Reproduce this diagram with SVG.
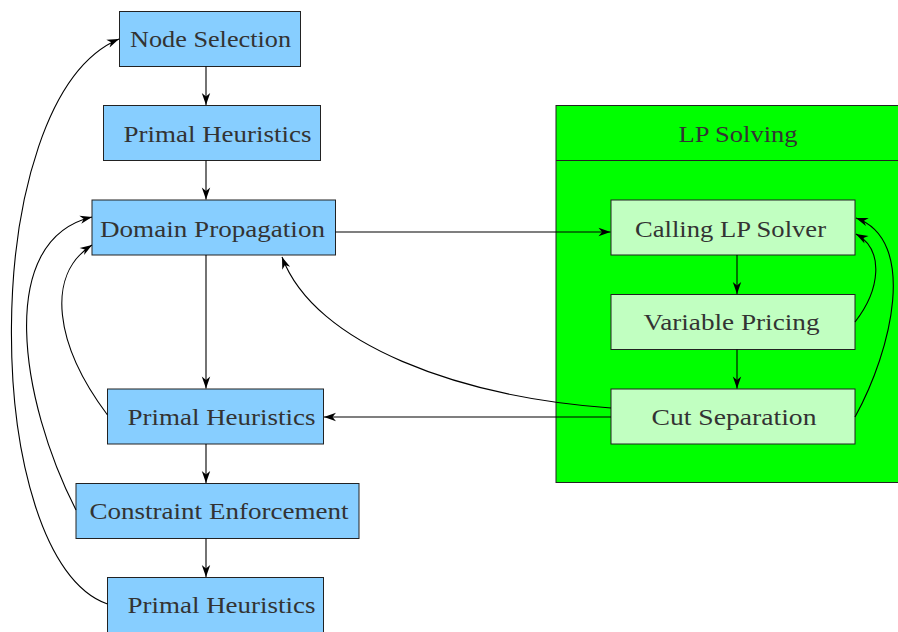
<svg xmlns="http://www.w3.org/2000/svg" width="898" height="632" viewBox="0 0 898 632">
  <style>
    .node rect { fill: #87ceff; stroke: #222; stroke-width: 1; }
    .lp rect { fill: #c1ffc1; stroke: #222; stroke-width: 1; }
    .lbl { font-family: "Liberation Serif", "DejaVu Serif", serif; font-size: 23px; fill: #333; }
    .edge { fill: none; stroke: #000; stroke-width: 1.1; marker-end: url(#arrow); }
  </style>
  <defs>
    <marker id="arrow" viewBox="-13 -6 14 12" refX="0" refY="0" markerWidth="14" markerHeight="12" markerUnits="userSpaceOnUse" orient="auto">
      <path d="M0,0 L-12,-4.2 L-8.5,0 L-12,4.2 Z" fill="#000"/>
    </marker>
  </defs>

  <!-- LP solving container -->
  <g id="lp-solving">
    <rect x="556" y="105.5" width="360" height="377" fill="#00ff00" stroke="#222" stroke-width="1"/>
    <line x1="556" y1="160.5" x2="898" y2="160.5" stroke="#222" stroke-width="1"/>
    <text class="lbl" x="678.5" y="142" textLength="119" lengthAdjust="spacingAndGlyphs">LP Solving</text>
  </g>

  <g id="node-selection" class="node">
    <rect x="119.5" y="11.5" width="181" height="55"/>
    <text class="lbl" x="130" y="47" textLength="161" lengthAdjust="spacingAndGlyphs">Node Selection</text>
  </g>
  <g id="primal-heuristics-1" class="node">
    <rect x="103.5" y="105.5" width="217" height="55"/>
    <text class="lbl" x="123.5" y="142" textLength="188" lengthAdjust="spacingAndGlyphs">Primal Heuristics</text>
  </g>
  <g id="domain-propagation" class="node">
    <rect x="92" y="200" width="243.5" height="55"/>
    <text class="lbl" x="100" y="237" textLength="225" lengthAdjust="spacingAndGlyphs">Domain Propagation</text>
  </g>
  <g id="primal-heuristics-2" class="node">
    <rect x="107.5" y="389" width="216" height="55"/>
    <text class="lbl" x="127.5" y="425" textLength="188" lengthAdjust="spacingAndGlyphs">Primal Heuristics</text>
  </g>
  <g id="constraint-enforcement" class="node">
    <rect x="76" y="483.5" width="283" height="55"/>
    <text class="lbl" x="89.5" y="519" textLength="259" lengthAdjust="spacingAndGlyphs">Constraint Enforcement</text>
  </g>
  <g id="primal-heuristics-3" class="node">
    <rect x="107.5" y="577.5" width="216" height="60"/>
    <text class="lbl" x="127.5" y="613" textLength="188" lengthAdjust="spacingAndGlyphs">Primal Heuristics</text>
  </g>

  <g id="calling-lp-solver" class="lp">
    <rect x="611" y="200" width="244" height="55"/>
    <text class="lbl" x="635" y="237" textLength="191" lengthAdjust="spacingAndGlyphs">Calling LP Solver</text>
  </g>
  <g id="variable-pricing" class="lp">
    <rect x="611" y="294.5" width="244" height="55"/>
    <text class="lbl" x="643.5" y="330" textLength="176" lengthAdjust="spacingAndGlyphs">Variable Pricing</text>
  </g>
  <g id="cut-separation" class="lp">
    <rect x="611" y="389" width="244" height="55"/>
    <text class="lbl" x="651.5" y="424.5" textLength="165" lengthAdjust="spacingAndGlyphs">Cut Separation</text>
  </g>

  <g id="connectors">
    <!-- main vertical flow -->
    <path class="edge" d="M206,66.5 L206,105"/>
    <path class="edge" d="M206,160.5 L206,199.5"/>
    <path class="edge" d="M206,255 L206,388.5"/>
    <path class="edge" d="M206,444 L206,483"/>
    <path class="edge" d="M206,538.5 L206,577"/>
    <!-- into and out of LP solving -->
    <path class="edge" d="M335.5,232 L610.5,232"/>
    <path class="edge" d="M611,417 L324,417"/>
    <path class="edge" d="M611,408 C460,397 315,345 282,257"/>
    <!-- inside LP solving -->
    <path class="edge" d="M737,255 L737,294"/>
    <path class="edge" d="M737,349.5 L737,388.5"/>
    <path class="edge" d="M855,322 C880,290 885,250 856,234"/>
    <path class="edge" d="M855,417 C892,350 918,240 856,218"/>
    <!-- feedback loops on the left -->
    <path class="edge" d="M107.5,415 C55,345 45,275 92,245"/>
    <path class="edge" d="M76,510 C20,400 -5,240 92,217"/>
    <path class="edge" d="M107.5,604 C-20,560 -25,100 119,39"/>
  </g>
</svg>
